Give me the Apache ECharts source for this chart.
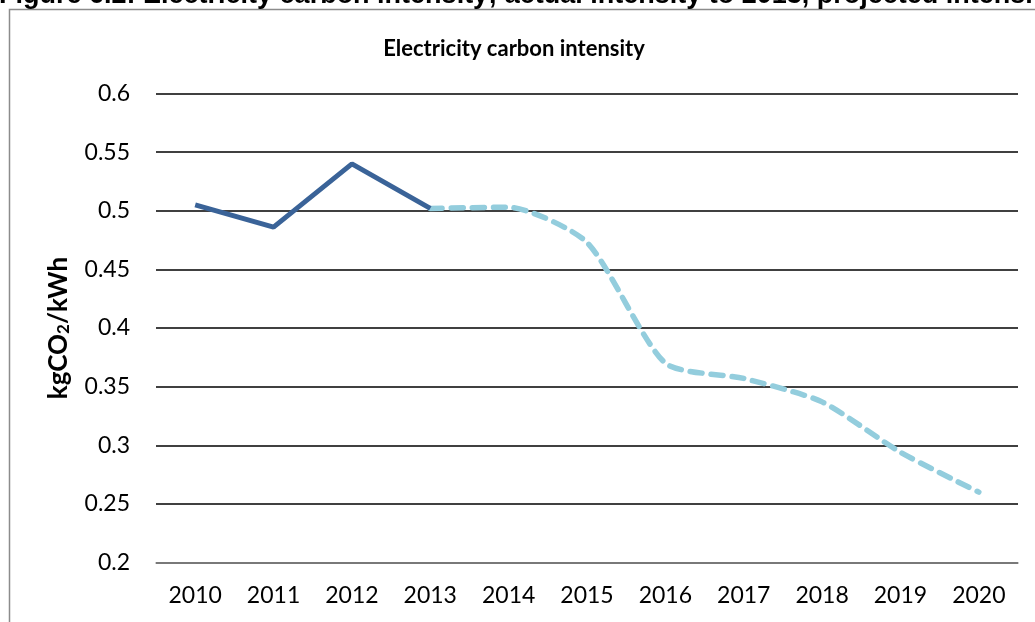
<!DOCTYPE html>
<html>
<head>
<meta charset="utf-8">
<script src="https://cdn.jsdelivr.net/npm/echarts@6/dist/echarts.min.js"></script>
<style>
    html, body { margin: 0; padding: 0; background: #fff; }
    #chart { width: 1035px; height: 622px; }
</style>
</head>
<body>
<div id="chart"></div>
<script>
// years on the x axis
var years = ['2010', '2011', '2012', '2013', '2014', '2015', '2016', '2017', '2018', '2019', '2020'];
// actual intensity to 2013
var actual = [0.505, 0.486, 0.540, 0.502, null, null, null, null, null, null, null];
// projected intensity from 2013
var projected = [null, null, null, 0.502, 0.503, 0.473, 0.370, 0.357, 0.337, 0.294, 0.260];

var chart = echarts.init(document.getElementById('chart'));

var option = {
    animation: false,
    title: {
        text: 'Electricity carbon intensity',
        left: 509,
        textAlign: 'center',
        top: 33,
        textStyle: { fontFamily: 'Lato', fontWeight: 'bold', fontSize: 22, color: '#000' }
    },
    graphic: [
        {
            type: 'rect',
            shape: { x: 9.5, y: 9.5, width: 1100, height: 700 },
            style: { fill: 'none', stroke: '#8c8c8c', lineWidth: 1.5 }
        },
        {
            type: 'text',
            left: -1,
            top: -18,
            style: {
                text: 'Figure 6.2: Electricity carbon intensity; actual intensity to 2013, projected intensity to 2020',
                fontFamily: 'Liberation Sans',
                fontWeight: 'bold',
                fontSize: 27,
                fill: '#000'
            }
        }
    ],
    grid: { left: 156, right: 17, top: 93.5, bottom: 59.5 },
    xAxis: {
        type: 'category',
        data: years,
        boundaryGap: true,
        axisLine: { lineStyle: { color: '#8c8c8c', width: 1.5 } },
        axisTick: { show: false },
        axisLabel: { fontFamily: 'Lato', fontSize: 23, color: '#000', margin: 22 }
    },
    yAxis: {
        type: 'value',
        min: 0.2,
        max: 0.6,
        interval: 0.05,
        name: '{b|kgCO}{s|2}{b|/kWh}',
        nameLocation: 'middle',
        nameRotate: 90,
        nameGap: 84,
        nameTextStyle: {
            rich: {
                b: { fontFamily: 'Lato', fontWeight: 'bold', fontSize: 26, color: '#000' },
                s: { fontFamily: 'Lato', fontWeight: 'bold', fontSize: 17, color: '#000', padding: [10, 0, 0, 0] }
            }
        },
        axisLine: { show: false },
        axisTick: { show: false },
        axisLabel: {
            fontFamily: 'Lato', fontSize: 23, color: '#000', margin: 26,
            formatter: function (v) { return String(parseFloat(v.toFixed(2))); }
        },
        splitLine: { lineStyle: { color: '#000', width: 1.5 } }
    },
    series: [
        {
            name: 'Projected',
            type: 'line',
            data: projected,
            smooth: 0.22,
            symbol: 'none',
            lineStyle: { color: '#93cddd', width: 5.5, type: [12, 9], cap: 'round' },
            z: 2
        },
        {
            name: 'Actual',
            type: 'line',
            data: actual,
            symbol: 'none',
            lineStyle: { color: '#3a6398', width: 5 },
            z: 3
        }
    ]
};

chart.setOption(option);
</script>
</body>
</html>
